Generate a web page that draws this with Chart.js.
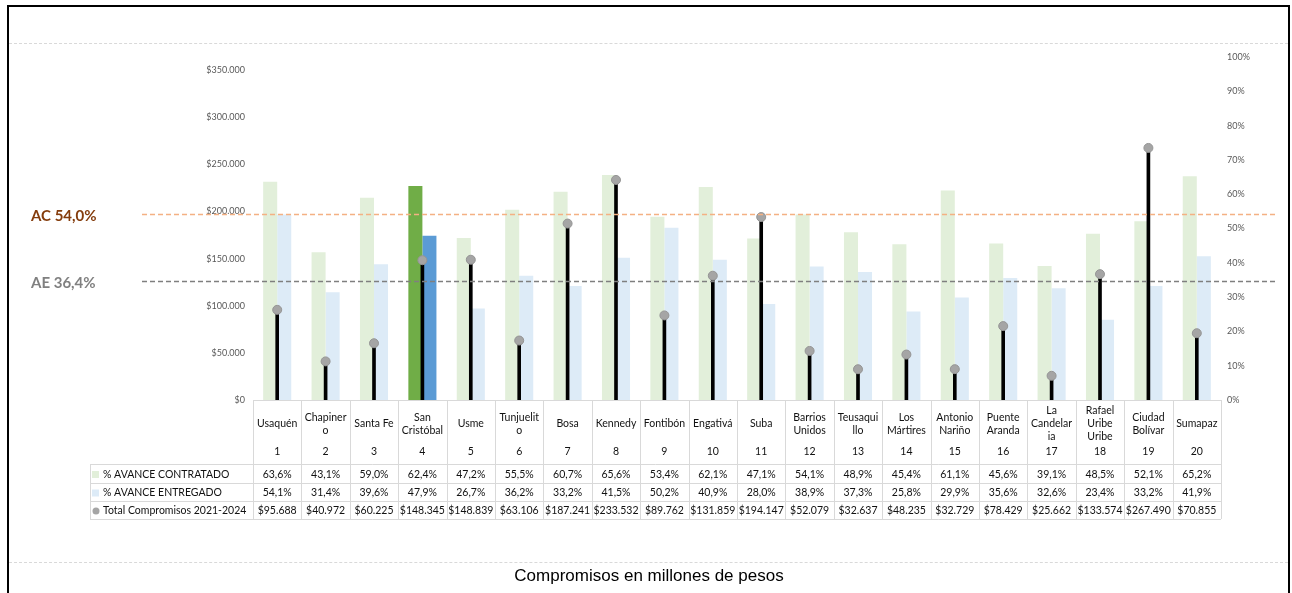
<!DOCTYPE html>
<html lang="es">
<head>
<meta charset="utf-8">
<title>Avance de compromisos por localidad</title>
<script src="https://cdn.jsdelivr.net/npm/chart.js@4.4.1/dist/chart.umd.min.js"></script>
<style>
  html, body { margin: 0; padding: 0; background: #fff; }
  #wrap { position: relative; width: 1292px; height: 593px; overflow: hidden; }
  #frame { position: absolute; left: 7px; top: 5px; width: 1279px; height: 620px; border: 2px solid #000; border-bottom: none; }
  .dash { position: absolute; left: 9px; width: 1279px; height: 0; border-top: 1px dashed #d9d9d9; }
  #caption { position: absolute; left: 0; width: 1298px; top: 566px; text-align: center;
             font: 17px "Liberation Sans", Arial, sans-serif; color: #000; }
  canvas { position: absolute; left: 0; top: 0; }
</style>
</head>
<body>
<div id="wrap">
  <div id="frame"></div>
  <div class="dash" style="top:43px"></div>
  <div class="dash" style="top:562px"></div>
  <canvas id="grafico" width="1292" height="593"></canvas>
  <div id="caption">Compromisos en millones de pesos</div>
</div>
<script>
// localidades (cada una partida en las líneas que muestra la tabla)
const localidades = [
  ["Usaquén"], ["Chapiner", "o"], ["Santa Fe"], ["San", "Cristóbal"], ["Usme"],
  ["Tunjuelit", "o"], ["Bosa"], ["Kennedy"], ["Fontibón"], ["Engativá"],
  ["Suba"], ["Barrios", "Unidos"], ["Teusaqui", "llo"], ["Los", "Mártires"], ["Antonio", "Nariño"],
  ["Puente", "Aranda"], ["La", "Candelar", "ia"], ["Rafael", "Uribe", "Uribe"], ["Ciudad", "Bolívar"], ["Sumapaz"]
];
const numeros = [1, 2, 3, 4, 5, 6, 7, 8, 9, 10, 11, 12, 13, 14, 15, 16, 17, 18, 19, 20];
const avanceContratado = [63.6, 43.1, 59.0, 62.4, 47.2, 55.5, 60.7, 65.6, 53.4, 62.1, 47.1, 54.1, 48.9, 45.4, 61.1, 45.6, 39.1, 48.5, 52.1, 65.2];
const avanceEntregado = [54.1, 31.4, 39.6, 47.9, 26.7, 36.2, 33.2, 41.5, 50.2, 40.9, 28.0, 38.9, 37.3, 25.8, 29.9, 35.6, 32.6, 23.4, 33.2, 41.9];
const totalCompromisos = [95688, 40972, 60225, 148345, 148839, 63106, 187241, 233532, 89762, 131859, 194147, 52079, 32637, 48235, 32729, 78429, 25662, 133574, 267490, 70855];
const serieNombres = ["% AVANCE CONTRATADO", "% AVANCE ENTREGADO", "Total Compromisos 2021-2024"];
const resaltada = "San Cristóbal";

// marcas de los ejes
const ticksPesos = [0, 50000, 100000, 150000, 200000, 250000, 300000, 350000];
const ticksPct = [0, 10, 20, 30, 40, 50, 60, 70, 80, 90, 100];

// líneas de referencia (nivel, en % del eje derecho)
const refEtiquetas = ["AC 54,0%", "AE 36,4%"];
const refNiveles = [54.3, 34.7];

const FONT = "Lato, 'Open Sans', sans-serif";

const fmtPct = v => v.toFixed(1).replace(".", ",") + "%";
const fmtPesos = v => "$" + String(v).replace(/\B(?=(\d{3})+(?!\d))/g, ".");

const etiquetas = localidades.map(l => l.join(" "));
const esResaltada = etiquetas.map(e => e === resaltada);

const verdes = esResaltada.map(r => r ? "#70AD47" : "#E2EFDA");
const azules = esResaltada.map(r => r ? "#5B9BD5" : "#DDEBF7");

const tablaPlugin = {
  id: "tablaDatos",
  afterDatasetsDraw(chart) {
    const { ctx } = chart;
    const y1 = chart.scales.y1;
    const trazo = ["#F4B183", "#7F7F7F"];
    const texto = ["#843C0C", "#808080"];
    ctx.save();
    refNiveles.forEach((nivel, i) => {
      const py = Math.round(y1.getPixelForValue(nivel)) + 0.5;
      ctx.strokeStyle = trazo[i];
      ctx.lineWidth = 1.5;
      ctx.setLineDash([5, 3]);
      ctx.beginPath();
      ctx.moveTo(142, py);
      ctx.lineTo(1277, py);
      ctx.stroke();
      ctx.setLineDash([]);
      ctx.fillStyle = texto[i];
      ctx.font = "bold 15px " + FONT;
      ctx.textAlign = "left";
      ctx.textBaseline = "middle";
      ctx.fillText(refEtiquetas[i], 31, py + 2);
    });
    ctx.restore();
  },
  afterDraw(chart) {
    const { ctx, chartArea: area } = chart;
    const xs = chart.scales.x;
    const n = localidades.length;
    const w = (area.right - area.left) / n;
    const top = area.bottom;
    const filas = [top + 64, top + 83, top + 101, top + 119];
    const izq = 90;

    ctx.save();
    ctx.strokeStyle = "#D9D9D9";
    ctx.lineWidth = 1;
    ctx.beginPath();
    ctx.moveTo(area.left, top + 0.5);
    ctx.lineTo(area.right, top + 0.5);
    filas.forEach(f => { ctx.moveTo(izq, f + 0.5); ctx.lineTo(area.right, f + 0.5); });
    for (let k = 0; k <= n; k++) {
      const px = Math.round(area.left + k * w) + 0.5;
      ctx.moveTo(px, top);
      ctx.lineTo(px, filas[3]);
    }
    ctx.moveTo(izq + 0.5, filas[0]);
    ctx.lineTo(izq + 0.5, filas[3]);
    ctx.stroke();

    ctx.fillStyle = "#111";
    ctx.font = "10.5px " + FONT;
    ctx.textAlign = "center";
    ctx.textBaseline = "middle";
    const lh = 13;
    localidades.forEach((lineas, i) => {
      const cx = xs.getPixelForValue(i);
      const y0 = top + 24 - (lineas.length - 1) * lh / 2;
      lineas.forEach((t, j) => ctx.fillText(t, cx, y0 + j * lh));
      ctx.fillText(String(numeros[i]), cx, top + 52);
      ctx.fillText(fmtPct(avanceContratado[i]), cx, (filas[0] + filas[1]) / 2 + 1);
      ctx.fillText(fmtPct(avanceEntregado[i]), cx, (filas[1] + filas[2]) / 2 + 1);
      ctx.fillText(fmtPesos(totalCompromisos[i]), cx, (filas[2] + filas[3]) / 2 + 1);
    });

    // leyenda de filas
    ctx.textAlign = "left";
    const cy = [0, 1, 2].map(r => (filas[r] + filas[r + 1]) / 2 + 1);
    ctx.fillStyle = "#E2EFDA";
    ctx.fillRect(92, cy[0] - 3.5, 7, 7);
    ctx.fillStyle = "#DDEBF7";
    ctx.fillRect(92, cy[1] - 3.5, 7, 7);
    ctx.fillStyle = "#A5A5A5";
    ctx.beginPath();
    ctx.arc(96, cy[2], 3.5, 0, Math.PI * 2);
    ctx.fill();
    ctx.fillStyle = "#111";
    serieNombres.forEach((s, r) => ctx.fillText(s, 103, cy[r]));
    ctx.restore();
  }
};

new Chart(document.getElementById("grafico"), {
  data: {
    labels: etiquetas,
    datasets: [
      {
        type: "line",
        label: serieNombres[2],
        data: totalCompromisos,
        yAxisID: "y",
        showLine: false,
        pointRadius: 4.5,
        pointBackgroundColor: "#A5A5A5",
        pointBorderColor: "#959595",
        pointBorderWidth: 1,
        order: 0,
      },
      {
        type: "bar",
        label: "tallo",
        data: totalCompromisos,
        yAxisID: "y",
        backgroundColor: "#000",
        barThickness: 3,
        grouped: false,
        order: 1,
      },
      {
        type: "bar",
        label: serieNombres[0],
        data: avanceContratado,
        yAxisID: "y1",
        backgroundColor: verdes,
        categoryPercentage: 0.58,
        barPercentage: 1.0,
        order: 2,
      },
      {
        type: "bar",
        label: serieNombres[1],
        data: avanceEntregado,
        yAxisID: "y1",
        backgroundColor: azules,
        categoryPercentage: 0.58,
        barPercentage: 1.0,
        order: 2,
      },
    ],
  },
  options: {
    responsive: false,
    animation: false,
    layout: { padding: { top: 57, bottom: 193, left: 0, right: 0 } },
    plugins: { legend: { display: false }, tooltip: { enabled: false } },
    scales: {
      x: {
        grid: { display: false },
        border: { display: false },
        ticks: { display: false },
        afterFit: s => { s.height = 0; },
      },
      y: {
        position: "left",
        min: 0,
        max: 364000,
        grid: { display: false, drawTicks: false },
        border: { display: false },
        afterBuildTicks: s => { s.ticks = ticksPesos.map(v => ({ value: v })); },
        ticks: {
          autoSkip: false,
          padding: 8,
          color: "#595959",
          font: { family: FONT, size: 9 },
          callback: v => fmtPesos(v),
        },
        afterFit: s => { s.width = 253; },
      },
      y1: {
        position: "right",
        min: 0,
        max: 100,
        grid: { display: false, drawTicks: false },
        border: { display: false },
        afterBuildTicks: s => { s.ticks = ticksPct.map(v => ({ value: v })); },
        ticks: {
          autoSkip: false,
          padding: 6,
          color: "#595959",
          font: { family: FONT, size: 9 },
          callback: v => v + "%",
        },
        afterFit: s => { s.width = 71; },
      },
    },
  },
  plugins: [tablaPlugin],
});
</script>
</body>
</html>
